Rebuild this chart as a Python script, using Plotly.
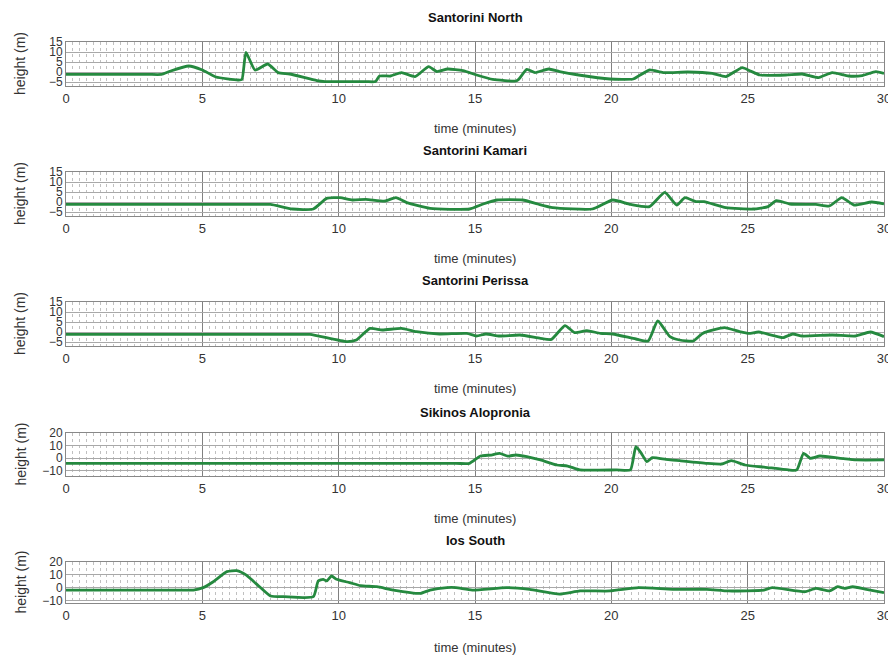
import plotly.graph_objects as go

# ---------------- data (time in minutes, height in metres) ----------------
stations = ["Santorini North", "Santorini Kamari", "Santorini Perissa",
            "Sikinos Alopronia", "Ios South"]

t_north = [0, 3.0, 3.5, 3.8, 4.5, 5.0, 5.5, 6.3, 6.45, 6.6, 6.93, 7.4, 7.78, 8.2, 9.2, 9.5,
           11.0, 11.35, 11.5, 11.9, 12.3, 12.8, 13.3, 13.6, 14.0, 14.56, 15.06, 15.65, 16.5,
           16.6, 16.9, 17.2, 17.7, 18.1, 18.8, 19.95, 20.8, 21.0, 21.4, 21.9, 22.8, 23.7,
           24.2, 24.8, 25.1, 25.45, 26.4, 27.0, 27.6, 28.1, 28.7, 29.2, 29.7, 30]
h_north = [-1.2, -1.2, -1.2, 0.3, 3.0, 1.0, -2.5, -4.0, -3.8, 9.8, 1.0, 4.0, -0.3, -1.0,
           -4.3, -4.8, -4.8, -4.8, -2.0, -2.0, -0.3, -2.3, 2.7, 0.2, 1.5, 0.7, -1.5, -3.7,
           -4.5, -3.7, 1.3, -0.3, 1.5, 0.2, -1.5, -3.5, -3.5, -2.0, 1.0, -0.3, 0.0, -0.7,
           -2.3, 2.2, 0.5, -1.5, -1.5, -1.0, -2.8, -0.3, -2.0, -1.8, 0.2, -0.7]

t_kamari = [0, 7.0, 7.5, 8.3, 9.07, 9.56, 10.05, 10.5, 11.0, 11.7, 12.1, 12.5, 13.35, 14.8,
            15.3, 15.8, 16.75, 17.3, 17.85, 19.3, 20.05, 20.7, 21.4, 21.96, 22.4, 22.7,
            23.1, 23.4, 24.2, 25.2, 25.75, 26.05, 26.55, 27.5, 28.0, 28.45, 28.9, 29.55, 30]
h_kamari = [-1.2, -1.2, -1.2, -3.5, -3.5, 1.8, 2.2, 1.0, 1.3, 0.5, 2.2, -0.3, -3.2, -3.5,
            -1.0, 1.0, 1.0, -1.0, -2.8, -3.5, 1.0, -1.2, -2.3, 4.8, -1.5, 2.2, 0.2, 0.2,
            -2.8, -3.5, -2.3, 0.7, -1.0, -1.2, -2.0, 2.2, -1.5, 0.0, -1.0]

t_perissa = [0, 8.4, 8.95, 10.3, 10.65, 11.15, 11.6, 12.3, 12.85, 13.7, 14.7, 15.05, 15.4,
             15.9, 16.65, 17.4, 17.8, 18.3, 18.65, 19.1, 19.6, 20.05, 20.9, 21.35, 21.7,
             22.15, 22.5, 23.0, 23.35, 24.15, 24.7, 25.05, 25.4, 26.3, 26.65, 27.0, 28.1,
             28.95, 29.5, 30]
h_perissa = [-1.2, -1.2, -1.2, -4.8, -4.0, 1.8, 1.0, 1.8, 0.2, -1.0, -0.7, -2.0, -1.0,
             -2.0, -1.5, -3.2, -3.7, 3.2, -0.3, 0.7, -0.7, -1.0, -3.5, -4.5, 5.5, -2.3,
             -4.0, -4.5, -0.7, 2.2, 0.2, -0.7, 0.0, -2.8, -1.0, -2.0, -1.5, -2.0, 0.0, -2.3]

t_sikinos = [0, 14.3, 14.8, 15.2, 15.6, 15.9, 16.2, 16.5, 16.9, 17.4, 18.0, 18.4, 18.85,
             20.2, 20.7, 20.9, 21.1, 21.3, 21.5, 22.0, 22.5, 23.5, 24.05, 24.4, 24.9, 25.65,
             26.5, 26.8, 27.05, 27.3, 27.65, 28.4, 29.0, 30]
h_sikinos = [-4.0, -4.0, -4.0, 1.8, 2.6, 3.9, 1.8, 2.6, 1.3, -1.3, -5.3, -6.1, -9.2, -9.2,
             -9.2, 9.2, 3.9, -2.7, 0.5, -0.8, -1.9, -4.0, -4.5, -1.9, -5.3, -7.1, -9.2,
             -9.2, 3.9, 0.0, 1.8, 0.0, -1.3, -1.3]

t_ios = [0, 4.2, 4.67, 5.03, 5.4, 5.9, 6.26, 6.6, 7.1, 7.5, 8.0, 9.07, 9.25, 9.43, 9.56,
         9.74, 9.92, 10.4, 10.8, 11.4, 12.0, 13.0, 13.35, 13.97, 14.3, 14.9, 16.15, 17.0,
         18.1, 18.85, 19.95, 21.0, 22.25, 23.5, 24.3, 25.6, 25.9, 27.1, 27.5, 28.0, 28.3,
         28.55, 28.85, 29.35, 30]
h_ios = [-1.9, -1.9, -1.9, 0.0, 4.6, 12.5, 13.2, 9.9, 0.7, -6.5, -7.1, -7.1, 5.2, 6.5,
         5.2, 9.1, 6.5, 3.9, 1.5, 0.7, -1.9, -4.5, -1.9, 0.0, 0.0, -1.9, 0.0, -1.3, -5.0,
         -2.6, -2.6, 0.0, -1.3, -1.3, -2.6, -1.9, 0.0, -3.2, -0.6, -2.6, 0.7, -0.6, 0.7,
         -1.3, -3.9]

series = [(t_north, h_north), (t_kamari, h_kamari), (t_perissa, h_perissa),
          (t_sikinos, h_sikinos), (t_ios, h_ios)]

x_ticks = [0, 5, 10, 15, 20, 25, 30]
y_ticks_small = [-5, 0, 5, 10, 15]
y_ticks_large = [-10, 0, 10, 20]
y_ranges = [[-7, 15], [-7, 15], [-7, 15], [-14, 20], [-12, 20]]

# ---------------- layout geometry (pixels of 888x657 page) ----------------
W, H = 888, 657
x_left, x_right = 66, 884
panel_px = [(42, 86), (172, 216), (302, 346), (433, 476), (562, 603)]
title_px = [17, 150, 280, 412, 540]
xlabel_px = [128, 258, 388, 518, 647]

LINE = "#25893f"
FONT = "Liberation Sans, Arial, sans-serif"

fig = go.Figure()
layout = dict(
    width=W, height=H, margin=dict(l=0, r=0, t=0, b=0),
    paper_bgcolor="white", plot_bgcolor="white", showlegend=False,
    font=dict(family=FONT, size=13, color="#333"),
)
annotations = []

for i, ((tt, hh), name) in enumerate(zip(series, stations)):
    n = "" if i == 0 else str(i + 1)
    fig.add_trace(go.Scatter(x=tt, y=hh, mode="lines", xaxis="x" + n, yaxis="y" + n,
                             line=dict(color=LINE, width=2.8, shape="spline", smoothing=0.5),
                             hoverinfo="skip"))
    top, bot = panel_px[i]
    layout["xaxis" + n] = dict(
        domain=[x_left / W, x_right / W], anchor="y" + n, range=[0, 30],
        tickvals=x_ticks, ticks="", showline=True, mirror=True, linecolor="#888",
        linewidth=1, showgrid=True, gridcolor="#808080", gridwidth=1, zeroline=False,
        minor=dict(dtick=0.25, tick0=0, showgrid=True, gridcolor="#c0c0c0",
                   griddash="dot", gridwidth=1),
        tickfont=dict(size=13, color="#333"), automargin=False, fixedrange=True,
        ticklabeloverflow="allow",
    )
    yt = y_ticks_small if i < 3 else y_ticks_large
    layout["yaxis" + n] = dict(
        domain=[1 - bot / H, 1 - top / H], anchor="x" + n, range=y_ranges[i],
        tickvals=yt, ticks="", showline=True, mirror=True, linecolor="#888",
        linewidth=1, showgrid=True, gridcolor="#a8a8a8", gridwidth=1, zeroline=False,
        tickfont=dict(size=12, color="#333"), automargin=False, fixedrange=True,
        ticklabeloverflow="allow",
    )
    cx = (x_left + x_right) / 2 / W
    annotations.append(dict(text="<b>" + name + "</b>", x=cx, y=1 - title_px[i] / H,
                            xref="paper", yref="paper", showarrow=False,
                            font=dict(size=13, color="#111", family=FONT),
                            xanchor="center", yanchor="middle"))
    annotations.append(dict(text="time (minutes)", x=cx, y=1 - xlabel_px[i] / H,
                            xref="paper", yref="paper", showarrow=False,
                            font=dict(size=13, color="#333", family=FONT),
                            xanchor="center", yanchor="middle"))
    annotations.append(dict(text="height (m)", x=20 / W, y=1 - (top + bot) / 2 / H,
                            xref="paper", yref="paper", showarrow=False, textangle=-90,
                            font=dict(size=14, color="#333", family=FONT),
                            xanchor="center", yanchor="middle"))

layout["annotations"] = annotations
fig.update_layout(**layout)
fig.write_html("out.html")
